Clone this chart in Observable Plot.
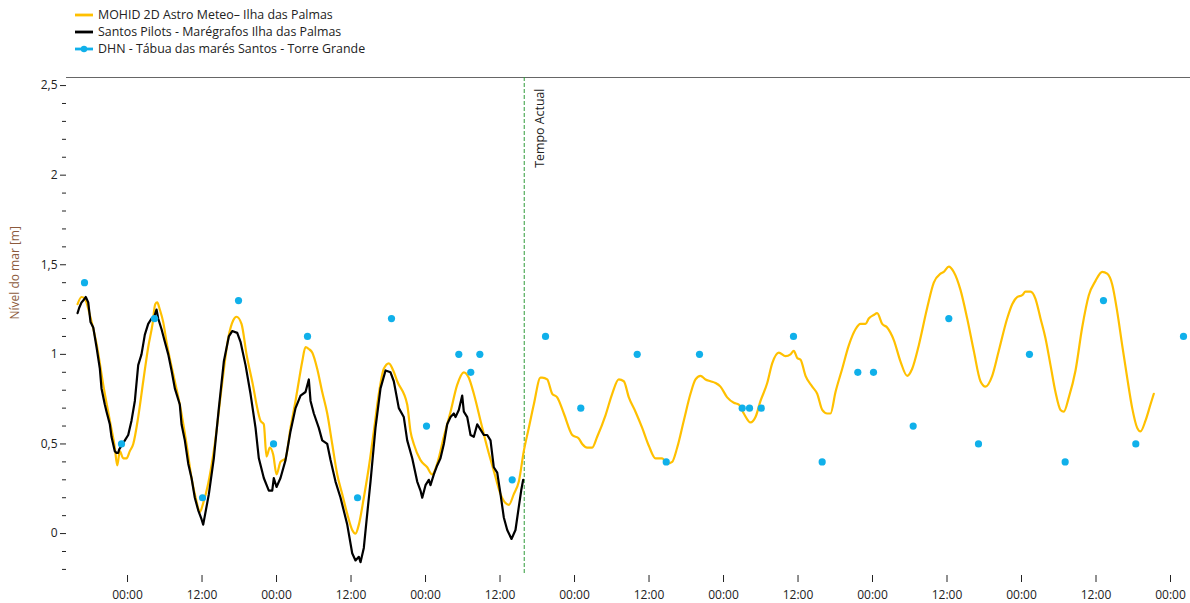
<!DOCTYPE html>
<html><head><meta charset="utf-8">
<script src="https://cdn.jsdelivr.net/npm/d3@7"></script>
<script src="https://cdn.jsdelivr.net/npm/@observablehq/plot@0.6"></script>
<style>
body{margin:0;background:#fff;font-family:"Open Sans",sans-serif;}
#legend{height:62px;position:relative;}
.row{position:absolute;left:75px;height:17px;display:flex;align-items:center;font-size:12.4px;color:#222;white-space:nowrap;}
.row svg{margin-right:5px;}
</style></head><body>
<div id="legend"></div>
<div id="chart"></div>
<script>
// ---- data (hours relative to first midnight shown, sea level in metres) ----
const seriesNames = ["MOHID 2D Astro Meteo\u2013 Ilha das Palmas", "Santos Pilots - Marégrafos Ilha das Palmas", "DHN - Tábua das marés Santos - Torre Grande"];
const seriesColors = ["#FFC000", "#000000", "#10B0EA"];

const mohidHours = [-8.05,-7.41,-6.88,-6.07,-4.99,-3.91,-2.85,-2.05,-1.66,-1.24,-0.69,-0.16,0.37,0.92,1.72,2.53,3.33,4.03,4.46,4.78,5.20,5.75,6.28,7.36,8.42,9.50,10.31,11.11,11.65,12.19,13.00,14.06,15.14,16.22,17.03,17.56,18.36,19.17,20.25,20.78,21.42,21.95,22.39,22.92,23.47,24.00,24.64,25.45,26.25,27.06,27.59,28.14,28.67,29.20,29.75,30.55,31.36,32.17,32.97,33.78,34.58,35.39,36.19,36.72,37.26,38.06,38.87,39.67,40.48,41.28,42.09,42.80,43.44,45.05,45.58,46.11,47.19,48.27,49.07,49.88,50.95,52.03,53.10,54.17,54.97,55.78,56.86,57.94,59.00,60.08,60.88,61.42,62.22,63.03,63.83,64.64,65.44,66.52,66.80,67.60,68.41,69.21,70.28,71.63,72.69,73.24,74.04,74.85,75.65,76.99,78.07,79.13,79.94,80.75,81.82,82.90,83.97,85.04,86.12,86.93,87.73,88.54,89.60,90.68,91.49,92.29,93.10,93.90,94.71,95.51,96.59,97.66,98.47,99.27,100.35,101.15,101.96,103.04,103.84,104.91,105.99,106.79,107.32,107.87,108.41,109.21,110.29,111.09,111.90,112.70,113.23,114.04,115.12,116.18,117.26,118.06,118.87,119.40,120.20,120.75,121.56,122.36,123.43,124.51,125.59,126.39,127.45,128.81,129.87,130.95,131.48,132.29,133.09,134.17,135.25,136.31,137.39,138.20,139.28,140.34,141.69,142.50,143.30,144.11,144.64,145.45,146.25,147.06,147.86,148.67,149.47,150.28,150.81,151.62,152.70,153.77,154.84,155.92,157.00,157.80,158.61,159.41,160.22,161.02,161.83,162.63,163.16,163.97,164.77,165.31];
const mohidLevels = [1.28,1.32,1.31,1.22,1.06,0.83,0.63,0.48,0.38,0.46,0.42,0.42,0.46,0.50,0.65,0.85,1.04,1.17,1.28,1.29,1.25,1.18,1.07,0.89,0.72,0.50,0.31,0.18,0.12,0.17,0.28,0.50,0.81,1.09,1.19,1.21,1.17,1.00,0.82,0.72,0.63,0.61,0.43,0.48,0.44,0.33,0.40,0.42,0.59,0.74,0.85,0.96,1.04,1.03,1.01,0.92,0.79,0.67,0.50,0.33,0.22,0.11,0.02,0.00,0.05,0.20,0.37,0.57,0.78,0.92,0.95,0.91,0.85,0.72,0.57,0.50,0.41,0.37,0.33,0.39,0.54,0.68,0.83,0.90,0.87,0.78,0.63,0.48,0.35,0.22,0.17,0.16,0.22,0.29,0.46,0.59,0.72,0.87,0.87,0.86,0.78,0.76,0.67,0.55,0.53,0.50,0.48,0.48,0.54,0.66,0.78,0.86,0.85,0.76,0.68,0.59,0.49,0.42,0.42,0.39,0.40,0.48,0.63,0.78,0.86,0.88,0.86,0.85,0.84,0.82,0.76,0.73,0.72,0.67,0.62,0.65,0.74,0.84,0.95,1.01,0.99,1.00,1.02,0.98,0.97,0.88,0.82,0.78,0.69,0.67,0.67,0.79,0.92,1.05,1.14,1.17,1.17,1.20,1.22,1.23,1.17,1.15,1.08,0.96,0.88,0.92,1.05,1.26,1.40,1.45,1.46,1.49,1.46,1.36,1.20,1.02,0.85,0.82,0.88,1.02,1.20,1.28,1.32,1.33,1.35,1.35,1.31,1.20,1.09,0.94,0.79,0.69,0.68,0.76,0.91,1.15,1.33,1.41,1.46,1.45,1.39,1.24,1.05,0.87,0.70,0.59,0.57,0.63,0.72,0.78];

const pilotsHours = [-8.05,-7.78,-7.41,-7.14,-6.72,-6.33,-5.96,-5.52,-4.99,-4.46,-4.19,-3.66,-3.38,-2.85,-2.58,-2.05,-1.77,-1.50,-1.34,-0.97,-0.43,0.11,0.64,1.18,1.72,2.25,2.79,3.33,3.87,4.30,4.67,4.94,5.48,6.01,6.56,7.09,7.62,8.42,8.70,9.23,9.78,10.31,10.84,11.39,11.92,12.19,13.10,13.90,14.71,15.51,16.32,16.86,17.67,18.20,19.01,19.81,20.62,21.15,21.95,22.76,23.31,23.56,24.00,24.64,25.45,26.25,27.06,27.87,28.67,29.20,29.48,30.01,30.81,31.36,32.17,32.70,33.50,34.31,35.39,36.19,36.72,37.26,37.53,38.06,38.49,39.14,39.94,40.75,41.56,42.36,42.89,43.70,44.50,45.05,45.86,46.66,47.19,47.47,48.00,48.53,48.80,49.34,49.88,50.41,50.95,51.49,52.03,52.56,52.83,53.36,53.91,54.17,54.72,55.25,55.78,56.33,56.86,57.39,57.94,58.47,59.00,59.55,60.08,60.61,61.16,61.85,62.49,63.03,63.41,63.73];
const pilotsLevels = [1.23,1.26,1.29,1.30,1.32,1.29,1.18,1.15,1.04,0.92,0.81,0.72,0.68,0.61,0.54,0.46,0.45,0.45,0.47,0.49,0.52,0.55,0.63,0.74,0.94,1.00,1.11,1.17,1.20,1.21,1.25,1.20,1.14,1.07,1.00,0.91,0.81,0.72,0.61,0.52,0.39,0.31,0.20,0.13,0.08,0.05,0.22,0.42,0.70,0.96,1.10,1.13,1.12,1.07,0.94,0.78,0.59,0.42,0.31,0.24,0.24,0.31,0.26,0.31,0.41,0.57,0.70,0.77,0.79,0.86,0.74,0.67,0.59,0.52,0.50,0.41,0.29,0.20,0.05,-0.11,-0.15,-0.13,-0.16,-0.08,0.07,0.29,0.59,0.81,0.91,0.90,0.85,0.70,0.65,0.52,0.42,0.29,0.24,0.20,0.27,0.30,0.27,0.33,0.38,0.42,0.50,0.61,0.65,0.67,0.65,0.69,0.77,0.68,0.65,0.55,0.54,0.61,0.58,0.55,0.55,0.52,0.37,0.34,0.22,0.09,0.02,-0.03,0.02,0.15,0.24,0.30];

const dhnHours = [-6.93,-0.97,4.35,12.08,17.88,23.52,28.99,37.05,42.52,48.16,53.36,55.29,56.75,61.96,67.33,73.01,82.10,86.77,92.13,99.01,100.19,102.07,107.27,111.89,117.63,120.16,126.55,132.29,137.07,145.28,151.03,157.20,162.41,170.09];
const dhnLevels = [1.4,0.5,1.2,0.2,1.3,0.5,1.1,0.2,1.2,0.6,1.0,0.9,1.0,0.3,1.1,0.7,1.0,0.4,1.0,0.7,0.7,0.7,1.1,0.4,0.9,0.9,0.6,1.2,0.5,1.0,0.4,1.3,0.5,1.1];

const nowHours = 63.9;              // "Tempo Actual"
const nowLabel = "Tempo Actual";
const xDomainHours = [-9.83, 171.22];
const yDomain = [-0.234, 2.545];
const yMajorTicks = [0, 0.5, 1, 1.5, 2, 2.5];
const yMinorTicks = [-0.2,-0.1,0.1,0.2,0.3,0.4,0.6,0.7,0.8,0.9,1.1,1.2,1.3,1.4,1.6,1.7,1.8,1.9,2.1,2.2,2.3,2.4];
const yLabel = "Nível do mar [m]";

// ---- build ----
const base = Date.UTC(2021, 0, 10);
const toDate = h => new Date(base + h * 3600e3);
const mohid = mohidHours.map((h, i) => ({t: toDate(h), v: mohidLevels[i]}));
const pilots = pilotsHours.map((h, i) => ({t: toDate(h), v: pilotsLevels[i]}));
const dhn = dhnHours.map((h, i) => ({t: toDate(h), v: dhnLevels[i]}));
const xTicks = d3.utcHour.every(12).range(toDate(xDomainHours[0]), toDate(xDomainHours[1]));

// legend
const legend = document.getElementById("legend");
seriesNames.forEach((name, i) => {
  const row = document.createElement("div");
  row.className = "row";
  row.style.top = (6 + i * 17) + "px";
  const dot = i === 2 ? `<circle cx="9" cy="4" r="3.2" fill="${seriesColors[i]}"/>` : "";
  row.innerHTML = `<svg width="18" height="8"><line x1="0" x2="18" y1="4" y2="4" stroke="${seriesColors[i]}" stroke-width="2.8"/>${dot}</svg><span>${name}</span>`;
  legend.appendChild(row);
});

const chart = Plot.plot({
  width: 1190,
  height: 541,
  marginTop: 15,
  marginBottom: 28,
  marginLeft: 66,
  marginRight: 0,
  style: {fontFamily: "'Open Sans', sans-serif", fontSize: "12px", color: "#222", background: "#fff"},
  x: {type: "utc", domain: xDomainHours.map(toDate)},
  y: {domain: yDomain},
  marks: [
    Plot.ruleY([yDomain[1]], {stroke: "#666", strokeWidth: 1}),
    Plot.axisY(yMinorTicks, {tickSize: 4, tickFormat: () => "", label: null, stroke: "#222"}),
    Plot.axisY(yMajorTicks, {tickSize: 6, tickPadding: 3, tickFormat: d => String(d).replace(".", ","), label: null, line: true, stroke: "#222"}),
    Plot.axisX(xTicks, {tickSize: 7, tickPadding: 8, tickFormat: d3.utcFormat("%H:%M"), label: null, line: true, stroke: "#222"}),
    Plot.text([yLabel], {frameAnchor: "left", dx: -51, dy: -7, rotate: -90, fill: "#8c5a3c", fontSize: 12}),
    Plot.ruleX([toDate(nowHours)], {stroke: "#2f9a3a", strokeWidth: 1, strokeDasharray: "4,2"}),
    Plot.text([nowLabel], {x: () => toDate(nowHours), frameAnchor: "top", dy: 11, dx: 11, rotate: -90, textAnchor: "end", fill: "#222", fontSize: 12.4}),
    Plot.line(mohid, {x: "t", y: "v", stroke: seriesColors[0], strokeWidth: 2.2, curve: "monotone-x"}),
    Plot.line(pilots, {x: "t", y: "v", stroke: seriesColors[1], strokeWidth: 2.2}),
    Plot.dot(dhn, {x: "t", y: "v", r: 3.6, fill: seriesColors[2], stroke: "none"})
  ]
});
document.getElementById("chart").appendChild(chart);
</script>
</body></html>
